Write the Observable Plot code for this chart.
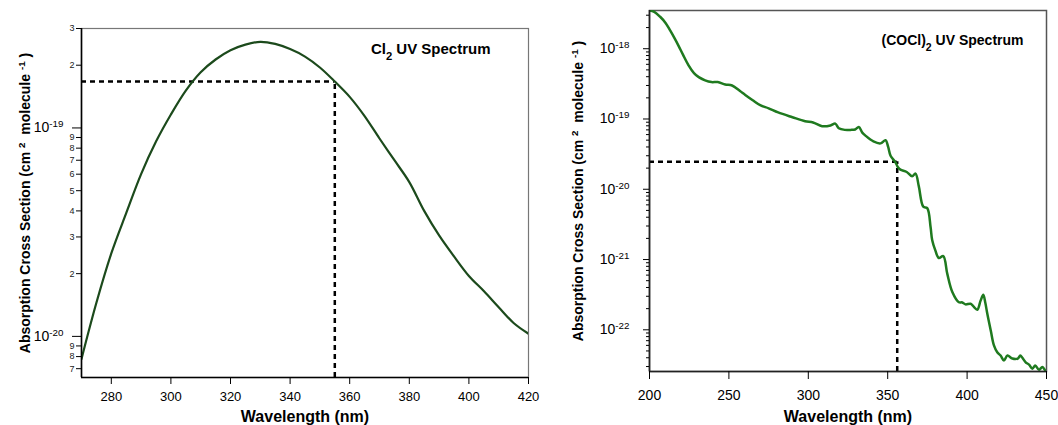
<!DOCTYPE html>
<html><head><meta charset="utf-8">
<script src="https://cdn.jsdelivr.net/npm/d3@7"></script>
<script src="https://cdn.jsdelivr.net/npm/@observablehq/plot@0.6"></script>
<style>
body{margin:0;background:#fff;font-family:"Liberation Sans",Arial,sans-serif}
#wrap{position:relative;width:1058px;height:425px;overflow:hidden}
#left{position:absolute;left:0;top:0}
#right{position:absolute;left:540px;top:0}
svg{font-family:"Liberation Sans",Arial,sans-serif}
</style></head><body><div id="wrap"><div id="left"></div><div id="right"></div></div>
<script>
// ---- Cl2 spectrum ----
const cl2Wavelength = [270,275,280,285,290,295,300,305,310,315,320,325,330,335,340,345,350,355,360,365,370,375,380,385,390,395,400,405,410,415,420];
const cl2Cross = [7.8e-21,1.45e-20,2.5e-20,3.9e-20,6.0e-20,8.6e-20,1.16e-19,1.51e-19,1.85e-19,2.13e-19,2.36e-19,2.51e-19,2.59e-19,2.53e-19,2.39e-19,2.2e-19,1.95e-19,1.67e-19,1.41e-19,1.14e-19,8.9e-20,7.0e-20,5.5e-20,4.0e-20,3.05e-20,2.42e-20,1.95e-20,1.65e-20,1.38e-20,1.16e-20,1.03e-20];
const cl2XDomain = [270, 420];
const cl2YDomain = [6.35e-21, 3e-19];
const cl2XTicks = [280,300,320,340,360,380,400,420];
const cl2YMajor = [1e-20, 1e-19];
const cl2YMinor = [7e-21,8e-21,9e-21,2e-20,3e-20,4e-20,5e-20,6e-20,7e-20,8e-20,9e-20,2e-19,3e-19];
const cl2PickWavelength = 355;
const cl2PickCross = 1.67e-19;
const cl2Title = "Cl2 UV Spectrum";

// ---- (COCl)2 spectrum ----
const coclWavelength = [200,203,206.7,210,213,216,218.3,221,224.6,228,231,235,239,243,247.7,252,257,260.3,265,270,275,281,290,298,303,308.7,314,317,319.2,323,326.5,329.5,331.8,334,336,341,345.5,348.6,350.3,351.8,354.9,356.5,358,362,365.4,367.5,369.6,372.4,374.9,377,378,380,382.2,385,387.5,390.7,394.8,397,399,402.2,404,406.4,408.5,410.2,411.5,412.7,415,416.9,419,421.1,423.2,425.4,428.5,431.9,433.5,434.8,436.9,439,441.1,442.9,445.3,447.4,449.5,450];
const coclCross = [3.5e-18,3.35e-18,2.85e-18,2.35e-18,1.82e-18,1.38e-18,1.1e-18,8.3e-19,5.8e-19,4.5e-19,3.94e-19,3.55e-19,3.35e-19,3.35e-19,3.1e-19,3.0e-19,2.5e-19,2.2e-19,1.85e-19,1.56e-19,1.42e-19,1.24e-19,1.06e-19,9.3e-20,8.9e-20,7.9e-20,8.1e-20,8.6e-20,7.4e-20,7.0e-20,7.0e-20,7.1e-20,7.7e-20,6.4e-20,5.8e-20,4.8e-20,4.5e-20,5.0e-20,4.0e-20,3.0e-20,2.42e-20,2.05e-20,1.9e-20,1.76e-20,1.53e-20,1.67e-20,1.1e-20,5.65e-21,5.4e-21,2.9e-21,1.9e-21,1.35e-21,1.05e-21,1.12e-21,6.3e-22,3.45e-22,2.47e-22,2.45e-22,2.3e-22,2.35e-22,2.15e-22,1.93e-22,2.6e-22,3.15e-22,2.4e-22,1.7e-22,9.5e-23,6.0e-23,4.8e-23,4.3e-23,3.66e-23,4.3e-23,3.9e-23,3.9e-23,4.3e-23,4.0e-23,3.45e-23,3.2e-23,2.8e-23,3.1e-23,2.7e-23,2.95e-23,2.6e-23,2.6e-23];
const coclXDomain = [200, 450];
const coclYDomain = [2.55e-23, 3.5e-18];
const coclXTicks = [200,250,300,350,400,450];
const coclYMajor = [1e-22,1e-21,1e-20,1e-19,1e-18];
const coclYMinor = [3e-23,4e-23,5e-23,6e-23,7e-23,8e-23,9e-23,
  2e-22,3e-22,4e-22,5e-22,6e-22,7e-22,8e-22,9e-22,
  2e-21,3e-21,4e-21,5e-21,6e-21,7e-21,8e-21,9e-21,
  2e-20,3e-20,4e-20,5e-20,6e-20,7e-20,8e-20,9e-20,
  2e-19,3e-19,4e-19,5e-19,6e-19,7e-19,8e-19,9e-19,
  2e-18,3e-18];
const coclPickWavelength = 356;
const coclPickCross = 2.47e-20;
const coclTitle = "(COCl)2 UV Spectrum";

const yTitle = "Absorption Cross Section (cm2 molecule-1)";
const xTitle = "Wavelength (nm)";

const FONT = "Liberation Sans, Arial, sans-serif";
const pow10 = d => "10^" + Math.round(Math.log10(d));
const mant = d => String(Math.round(d / Math.pow(10, Math.floor(Math.log10(d) + 1e-9))));
const blank = () => "";

function rich(el, parts) {
  const t = d3.select(el); t.text("");
  for (const p of parts) {
    const ts = t.append("tspan").text(p.t);
    if (p.sup) ts.attr("font-size", "70%").attr("baseline-shift", "super");
    if (p.sub) ts.attr("font-size", "75%").attr("baseline-shift", "sub");
  }
}
function postProcess(svg, opts) {
  d3.select(svg).selectAll("text").each(function() {
    const s = this.textContent;
    if (/^10\^/.test(s)) {
      rich(this, [{t: "10"}, {t: s.slice(3), sup: true}]);
    } else if (s.startsWith("Absorption")) {
      d3.select(this).attr("font-weight", "bold").attr("font-size", opts.yTitleSize);
      rich(this, [{t: "Absorption Cross Section (cm "}, {t: "2", sup: true}, {t: "  molecule "}, {t: "-1", sup: true}, {t: " )"}]);
    } else if (s.startsWith("Wavelength")) {
      d3.select(this).attr("font-weight", "bold").attr("font-size", 16);
      d3.select(this).text("Wavelength (nm)");
    } else if (s === cl2Title) {
      rich(this, [{t: "Cl"}, {t: "2", sub: true}, {t: " UV Spectrum"}]);
    } else if (s === coclTitle) {
      rich(this, [{t: "(COCl)"}, {t: "2", sub: true}, {t: " UV Spectrum"}]);
    }
  });
}

// ---- left panel ----
const cl2Data = cl2Wavelength.map((w, i) => ({w, v: cl2Cross[i]}));
const left = Plot.plot({
  width: 540, height: 425,
  marginLeft: 81, marginRight: 12, marginTop: 28, marginBottom: 48,
  style: {fontFamily: FONT, background: "white", color: "black", overflow: "visible"},
  x: {domain: cl2XDomain},
  y: {type: "log", domain: cl2YDomain},
  marks: [
    Plot.frame({stroke: "#777", strokeWidth: 1.2}),
    Plot.ruleY([cl2PickCross], {x1: cl2XDomain[0], x2: cl2PickWavelength, stroke: "black", strokeWidth: 2.5, strokeDasharray: "5,4"}),
    Plot.ruleX([cl2PickWavelength], {y1: cl2YDomain[0], y2: cl2PickCross, stroke: "black", strokeWidth: 2.5, strokeDasharray: "5,4"}),
    Plot.line(cl2Data, {x: "w", y: "v", stroke: "#1c4a1c", strokeWidth: 2.2, curve: "catmull-rom", clip: true}),
    Plot.ruleX([cl2XDomain[0]], {stroke: "black", strokeWidth: 1.6}),
    Plot.ruleY([cl2YDomain[0]], {stroke: "black", strokeWidth: 1.6}),
    Plot.axisX({ticks: cl2XTicks, tickSize: 7, tickPadding: 7, fontSize: 13, label: xTitle, labelAnchor: "center", labelArrow: "none", labelOffset: 44}),
    Plot.axisY({ticks: cl2YMajor, tickSize: 9, tickPadding: 9, fontSize: 14, tickFormat: pow10, label: yTitle, labelAnchor: "center", labelArrow: "none", labelOffset: 61}),
    Plot.axisY({ticks: cl2YMinor, tickSize: 5, tickFormat: blank, label: null}),
    Plot.text(cl2YMinor, {y: d => d, text: mant, frameAnchor: "left", dx: -7, textAnchor: "end", fontSize: 9, fill: "#222"}),
    Plot.text([cl2Title], {frameAnchor: "top-right", dx: -38, dy: 15, fontWeight: "bold", fontSize: 15, textAnchor: "end"})
  ]
});
postProcess(left, {yTitleSize: 14});
document.getElementById("left").append(left);

// ---- right panel ----
const coclData = coclWavelength.map((w, i) => ({w, v: coclCross[i]}));
const right = Plot.plot({
  width: 518, height: 425,
  marginLeft: 109, marginRight: 12, marginTop: 10, marginBottom: 54,
  style: {fontFamily: FONT, background: "white", color: "black", overflow: "visible"},
  x: {domain: coclXDomain},
  y: {type: "log", domain: coclYDomain},
  marks: [
    Plot.frame({stroke: "#555", strokeWidth: 1.5}),
    Plot.ruleY([coclPickCross], {x1: coclXDomain[0], x2: coclPickWavelength, stroke: "black", strokeWidth: 2.5, strokeDasharray: "5,4"}),
    Plot.ruleX([coclPickWavelength], {y1: coclYDomain[0], y2: coclPickCross, stroke: "black", strokeWidth: 2.5, strokeDasharray: "5,4"}),
    Plot.line(coclData, {x: "w", y: "v", stroke: "#1f7a1f", strokeWidth: 2.5, curve: "catmull-rom", clip: true}),
    Plot.ruleX([coclXDomain[0]], {stroke: "#222", strokeWidth: 1.6}),
    Plot.ruleY([coclYDomain[0]], {stroke: "#222", strokeWidth: 1.6}),
    Plot.axisX({ticks: coclXTicks, tickSize: 8, tickPadding: 11, fontSize: 14, label: xTitle, labelAnchor: "center", labelArrow: "none", labelOffset: 50}),
    Plot.axisY({ticks: coclYMajor, tickSize: 6, tickPadding: 14, fontSize: 14, tickFormat: pow10, label: yTitle, labelAnchor: "center", labelArrow: "none", labelOffset: 76}),
    Plot.axisY({ticks: coclYMinor, tickSize: 3, tickFormat: blank, label: null}),
    Plot.text([coclTitle], {frameAnchor: "top-right", dx: -23, dy: 25, fontWeight: "bold", fontSize: 14, textAnchor: "end"})
  ]
});
postProcess(right, {yTitleSize: 14});
document.getElementById("right").append(right);
</script>
</body></html>
